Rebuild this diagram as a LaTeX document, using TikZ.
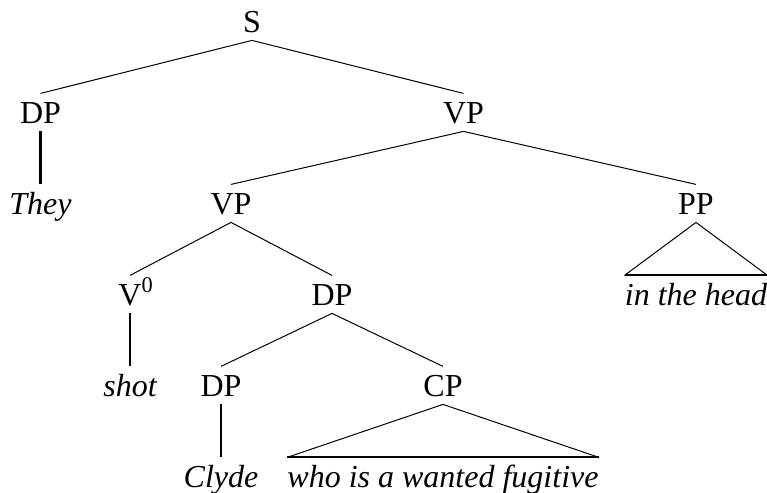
\documentclass[tikz,border=0pt]{standalone}
\usepackage{fontspec}
\setmainfont{Liberation Serif}
\begin{document}
\begin{tikzpicture}[every node/.style={font=\fontsize{16}{19}\selectfont, inner sep=0pt, text height=14.6pt, text depth=4pt},
	level distance=45.5pt, parent anchor=south, child anchor=north,
	edge from parent/.style={draw, line width=0.5pt},
	word/.style={font=\fontsize{16}{19}\selectfont\itshape},
	unary/.style={line width=1.1pt},
	roofbase/.style={line width=1pt}]

%DISTANCE SETTINGS
\tikzstyle{level 1}=[sibling distance=211.5pt]
\tikzstyle{level 2}=[sibling distance=232.5pt]
\tikzstyle{level 3}=[sibling distance=101pt]
\tikzstyle{level 4}=[sibling distance=111pt]

\useasboundingbox (0,0) rectangle (383.5pt,-246.5pt);

%NODES
\node (s) at (126pt,-10.7pt) {S}
	child {node (dpsubj) {DP}
		child {node[word] (they) {They} edge from parent[unary]}
	}
	child {node (vptop) {VP}
		child {node (vplow) {VP}
			child {node (verb) {V\rlap{\textsuperscript{0}}}
				child {node[word] (shot) {shot} edge from parent[unary]}
			}
			child {node (dpobj) {DP}
				child {node (dpname) {DP}
					child {node[word] (clyde) {Clyde} edge from parent[unary]}
				}
				child {node (cp) {CP}
					child {node[word] (cptext) {who is a wanted fugitive} edge from parent[draw=none]}
				}
			}
		}
		child {node (pp) {PP}
			child {node[word] (pptext) {in the head} edge from parent[draw=none]}
		}
	};

%ROOFS
\draw[line width=0.5pt] (pp.south) -- (pptext.north west) (pp.south) -- (pptext.north east);
\draw[roofbase] (pptext.north west) -- (pptext.north east);
\draw[line width=0.5pt] (cp.south) -- (cptext.north west) (cp.south) -- (cptext.north east);
\draw[roofbase] (cptext.north west) -- (cptext.north east);

\end{tikzpicture}
\end{document}
